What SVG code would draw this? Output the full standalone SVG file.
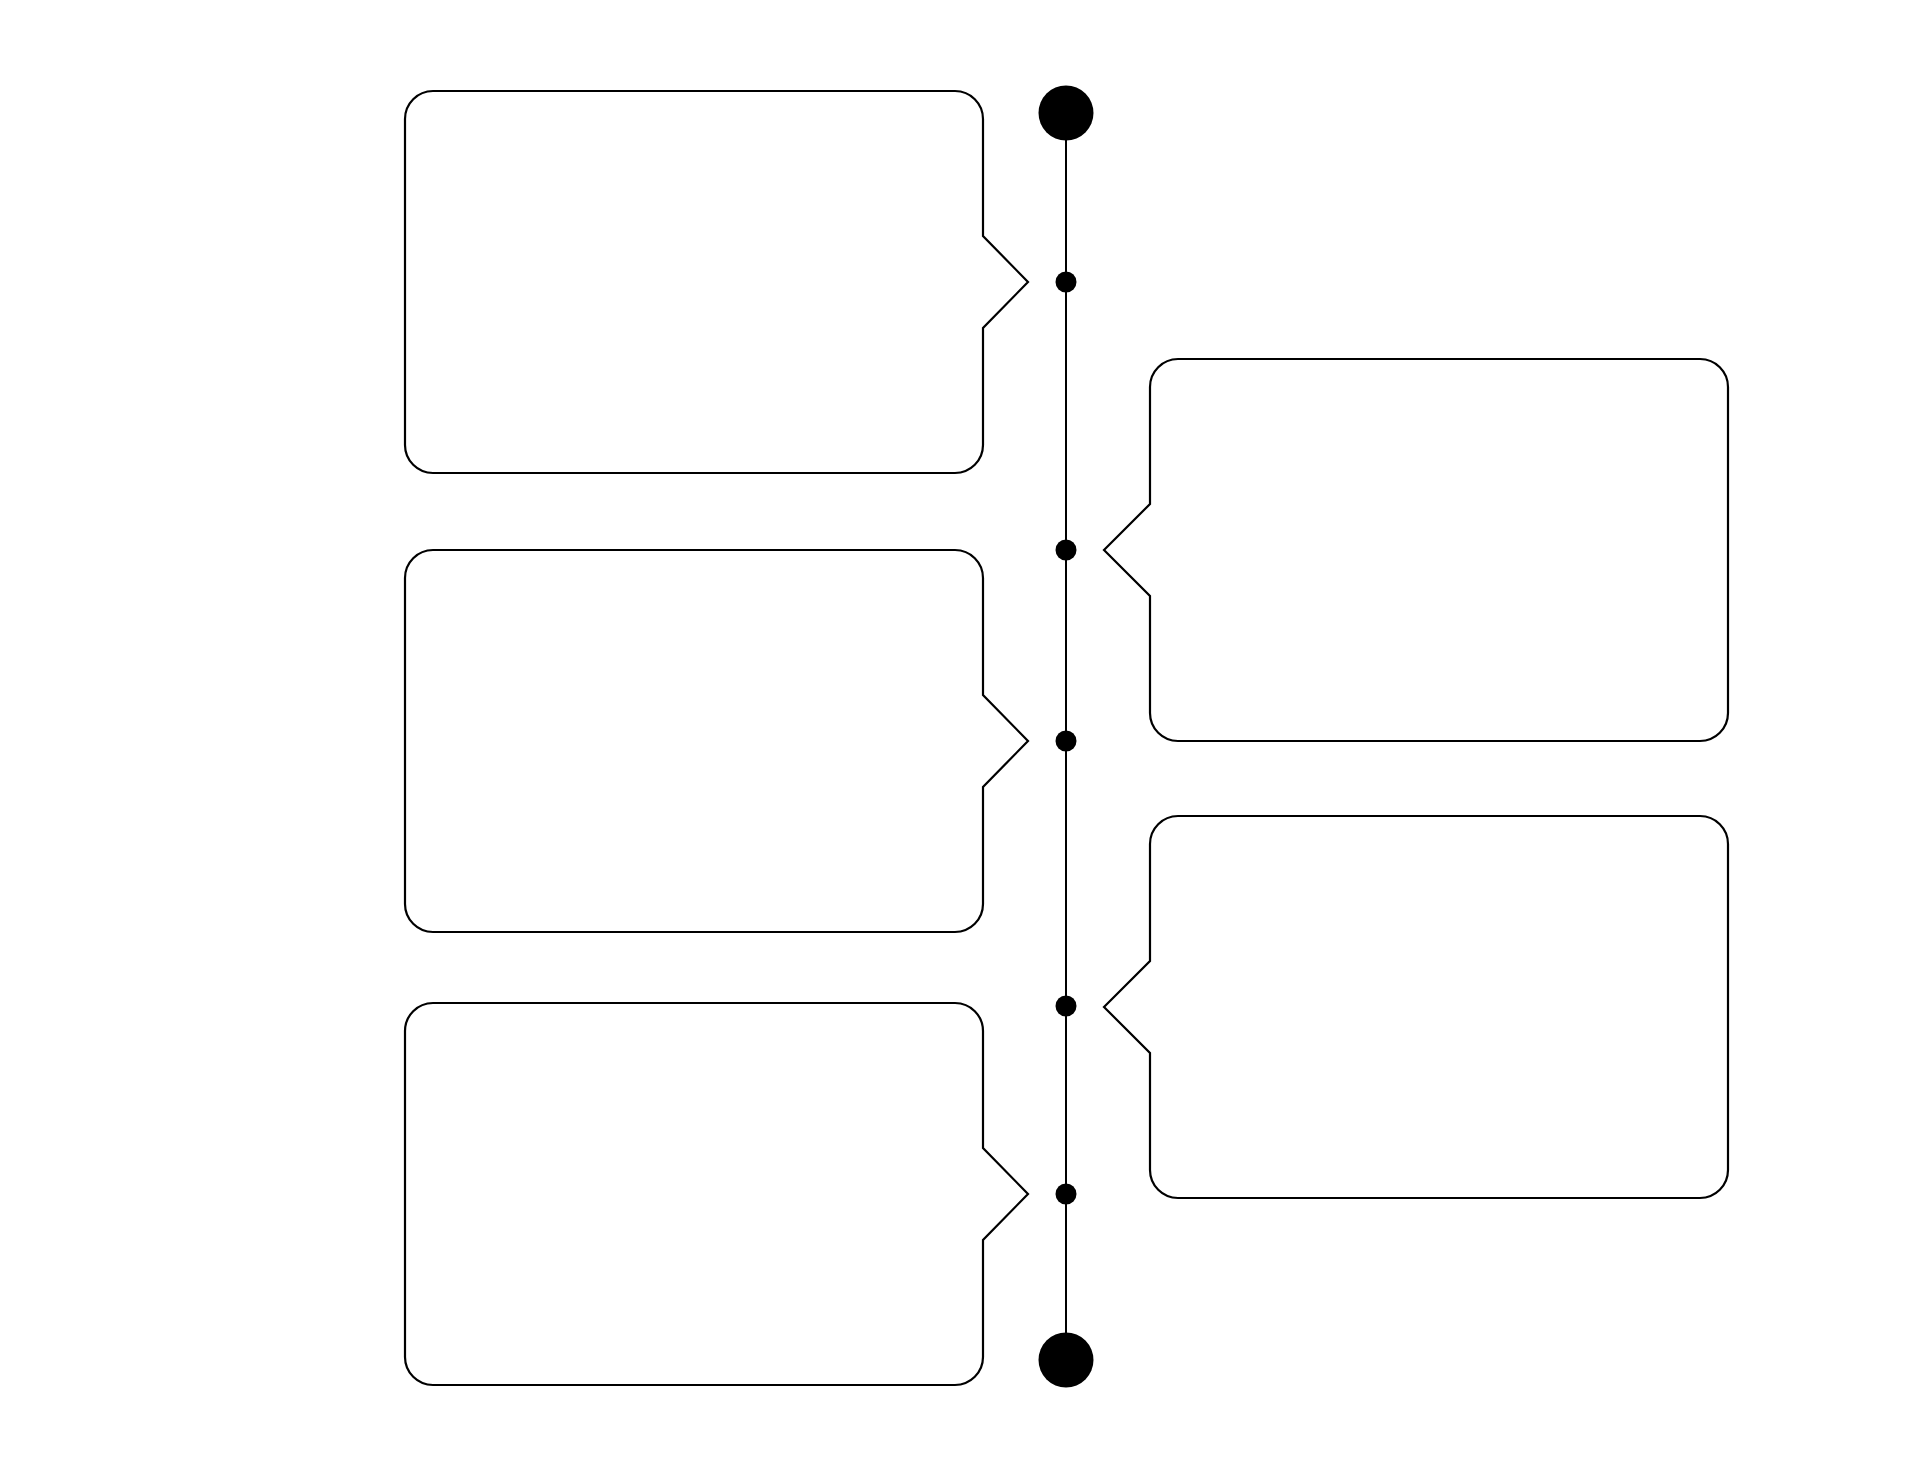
<svg xmlns="http://www.w3.org/2000/svg" xmlns:xlink="http://www.w3.org/1999/xlink" width="1920" height="1475" viewBox="0 0 1920 1475">
  <style>
    .box { fill: #ffffff; stroke: #000000; stroke-width: 2.2; stroke-linejoin: miter; }
    .axis { stroke: #000000; stroke-width: 2; fill: none; }
    .dot { fill: #000000; }
  </style>
  <defs>
    <path id="leftBox" d="M 433 0 H 955 A 28 28 0 0 1 983 28 V 145 L 1028 191 L 983 237 V 354 A 28 28 0 0 1 955 382 H 433 A 28 28 0 0 1 405 354 V 28 A 28 28 0 0 1 433 0 Z"/>
    <path id="rightBox" d="M 1178 0 H 1700 A 28 28 0 0 1 1728 28 V 354 A 28 28 0 0 1 1700 382 H 1178 A 28 28 0 0 1 1150 354 V 237 L 1104 191 L 1150 145 V 28 A 28 28 0 0 1 1178 0 Z"/>
  </defs>
  <rect x="0" y="0" width="1920" height="1475" fill="#ffffff"/>
  <g id="connectors">
    <line class="axis" x1="1066" y1="113" x2="1066" y2="1360"/>
  </g>
  <g id="start"><circle class="dot" cx="1066" cy="113" r="27.5"/></g>
  <g id="end"><circle class="dot" cx="1066" cy="1360" r="27.5"/></g>
  <g id="marker1"><circle class="dot" cx="1066" cy="282" r="10.5"/></g>
  <g id="marker2"><circle class="dot" cx="1066" cy="550" r="10.5"/></g>
  <g id="marker3"><circle class="dot" cx="1066" cy="741" r="10.5"/></g>
  <g id="marker4"><circle class="dot" cx="1066" cy="1006" r="10.5"/></g>
  <g id="marker5"><circle class="dot" cx="1066" cy="1194" r="10.5"/></g>
  <g id="box1"><use xlink:href="#leftBox" href="#leftBox" class="box" transform="translate(0,91)"/></g>
  <g id="box2"><use xlink:href="#rightBox" href="#rightBox" class="box" transform="translate(0,359)"/></g>
  <g id="box3"><use xlink:href="#leftBox" href="#leftBox" class="box" transform="translate(0,550)"/></g>
  <g id="box4"><use xlink:href="#rightBox" href="#rightBox" class="box" transform="translate(0,816)"/></g>
  <g id="box5"><use xlink:href="#leftBox" href="#leftBox" class="box" transform="translate(0,1003)"/></g>
</svg>
